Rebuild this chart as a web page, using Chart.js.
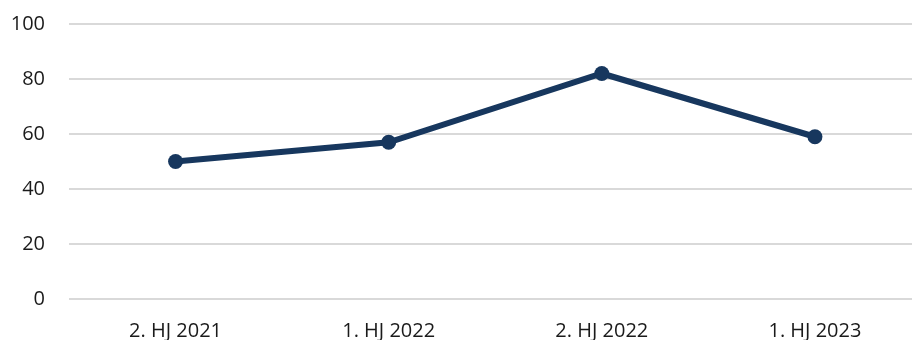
<!DOCTYPE html>
<html>
<head>
<meta charset="utf-8">
<script src="https://cdn.jsdelivr.net/npm/chart.js@4/dist/chart.umd.min.js"></script>
<style>
  html, body { margin: 0; padding: 0; background: #fff; overflow: hidden; }
  #wrap { width: 912px; height: 340px; overflow: hidden; }
</style>
</head>
<body>
<div id="wrap"><canvas id="c" width="929" height="340"></canvas></div>
<script>
// Half-year periods and their values
const periods = ['2. HJ 2021', '1. HJ 2022', '2. HJ 2022', '1. HJ 2023'];
const values = [50, 57, 82, 59];
const yTicks = [0, 20, 40, 60, 80, 100];

const navy = '#17375E';
const font = { family: '"Open Sans", sans-serif', size: 20 };

new Chart(document.getElementById('c'), {
  type: 'line',
  data: {
    labels: periods,
    datasets: [{
      data: values,
      borderColor: navy,
      backgroundColor: navy,
      borderWidth: 6,
      pointRadius: 7.5,
      pointHoverRadius: 7.5,
      pointBackgroundColor: navy,
      pointBorderColor: navy,
      pointBorderWidth: 0,
      tension: 0,
      fill: false
    }]
  },
  options: {
    responsive: false,
    animation: false,
    devicePixelRatio: 1,
    layout: { padding: { top: 24, right: 0, bottom: 0, left: 0 } },
    plugins: { legend: { display: false }, tooltip: { enabled: false } },
    scales: {
      x: {
        offset: true,
        grid: { display: false, drawTicks: false },
        border: { display: false },
        ticks: { color: '#1a1a1a', font: font, padding: 20, maxRotation: 0 },
        afterFit: s => { s.height = 41; s.paddingLeft = 0; s.paddingRight = 0; }
      },
      y: {
        min: 0,
        max: 100,
        afterBuildTicks: s => { s.ticks = yTicks.map(v => ({ value: v })); },
        grid: { color: '#d9d9d9', lineWidth: 2, drawTicks: false },
        border: { display: false },
        ticks: { color: '#1a1a1a', font: font, padding: 24 },
        afterFit: s => { s.width = 69; s.paddingTop = 0; s.paddingBottom = 0; }
      }
    }
  }
});
</script>
</body>
</html>
